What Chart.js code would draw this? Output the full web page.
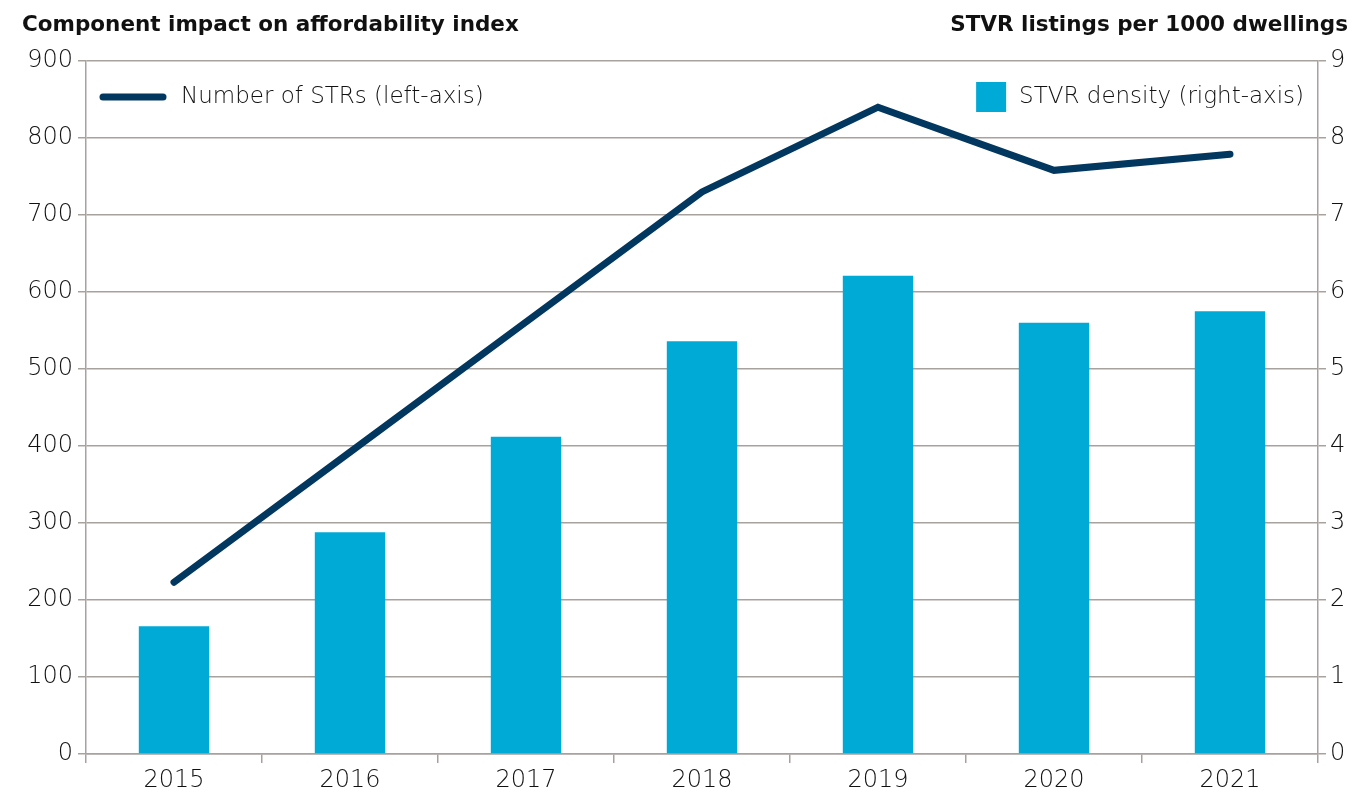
<!DOCTYPE html>
<html>
<head>
<meta charset="utf-8">
<script src="https://cdn.jsdelivr.net/npm/chart.js@4"></script>
<style>
  html, body { margin: 0; padding: 0; background: #fff; }
  #wrap { width: 1352px; height: 793px; position: relative; }
</style>
</head>
<body>
<div id="wrap"><canvas id="chartCanvas"></canvas></div>
<script>
const years = ["2015", "2016", "2017", "2018", "2019", "2020", "2021"];
const strCount = [223, 392, 561, 730, 840, 758, 779];
const stvrDensity = [1.66, 2.88, 4.12, 5.36, 6.21, 5.60, 5.75];
const leftTitle = "Component impact on affordability index";
const rightTitle = "STVR listings per 1000 dwellings";

const lineColor = "#02375f";
const barColor = "#00aad6";
const gridColor = "#a8a29e";
const fontFamily = "'DejaVu Sans', sans-serif";
const tickFont = { family: fontFamily, size: 24, weight: 200 };

// axis titles above the plot + legend drawn inside the plot area
const extras = {
  id: "extras",
  afterDraw(chart) {
    const ctx = chart.ctx;
    const area = chart.chartArea;
    ctx.save();
    ctx.fillStyle = "#111";
    ctx.font = "bold 21.5px " + fontFamily;
    ctx.textBaseline = "middle";
    ctx.textAlign = "left";
    ctx.fillText(leftTitle, 22, 25);
    ctx.textAlign = "right";
    ctx.fillText(rightTitle, 1348, 25);

    // legend
    const ly = area.top + 36;
    ctx.font = "200 23px " + fontFamily;
    ctx.textAlign = "left";
    ctx.strokeStyle = lineColor;
    ctx.lineWidth = 7;
    ctx.lineCap = "round";
    ctx.beginPath();
    ctx.moveTo(area.left + 17, ly);
    ctx.lineTo(area.left + 77, ly);
    ctx.stroke();
    ctx.fillStyle = "#111";
    ctx.fillText(chart.data.datasets[0].label, area.left + 95, ly);

    const label2 = chart.data.datasets[1].label;
    const w2 = ctx.measureText(label2).width;
    const tx = area.right - 14 - w2;
    ctx.fillText(label2, tx, ly);
    ctx.fillStyle = barColor;
    ctx.fillRect(tx - 43, ly - 15, 30, 30);
    ctx.restore();
  }
};

const ctx = document.getElementById("chartCanvas").getContext("2d");
const myChart = new Chart(ctx, {
  type: "bar",
  data: {
    labels: years,
    datasets: [
      {
        type: "line",
        label: "Number of STRs (left-axis)",
        data: strCount,
        yAxisID: "y",
        borderColor: lineColor,
        backgroundColor: lineColor,
        borderWidth: 7,
        borderCapStyle: "round",
        borderJoinStyle: "miter",
        pointRadius: 0,
        tension: 0,
        order: 0
      },
      {
        type: "bar",
        label: "STVR density (right-axis)",
        data: stvrDensity,
        yAxisID: "y1",
        backgroundColor: barColor,
        borderWidth: 0,
        barPercentage: 0.4,
        categoryPercentage: 1,
        order: 1
      }
    ]
  },
  options: {
    responsive: true,
    maintainAspectRatio: false,
    animation: false,
    layout: { padding: { top: 61, left: 0, right: 0, bottom: 0 } },
    plugins: {
      legend: { display: false },
      tooltip: { enabled: false }
    },
    scales: {
      x: {
        offset: true,
        grid: {
          offset: true,
          drawOnChartArea: false,
          tickLength: 9,
          color: gridColor,
          lineWidth: 1.5
        },
        border: { color: gridColor, width: 1.5 },
        ticks: { color: "#111", font: tickFont, padding: 3 },
        afterFit(scale) { scale.height = 39; }
      },
      y: {
        position: "left",
        min: 0,
        max: 900,
        ticks: { stepSize: 100, color: "#111", font: tickFont, padding: 5 },
        grid: { color: gridColor, lineWidth: 1.5, tickLength: 8 },
        border: { color: gridColor, width: 1.5 },
        afterFit(scale) { scale.width = 86; }
      },
      y1: {
        position: "right",
        min: 0,
        max: 9,
        ticks: { stepSize: 1, color: "#111", font: tickFont, padding: 4 },
        grid: { drawOnChartArea: false, color: gridColor, lineWidth: 1.5, tickLength: 8 },
        border: { color: gridColor, width: 1.5 },
        afterFit(scale) { scale.width = 34; }
      }
    }
  },
  plugins: [extras]
});
</script>
</body>
</html>
